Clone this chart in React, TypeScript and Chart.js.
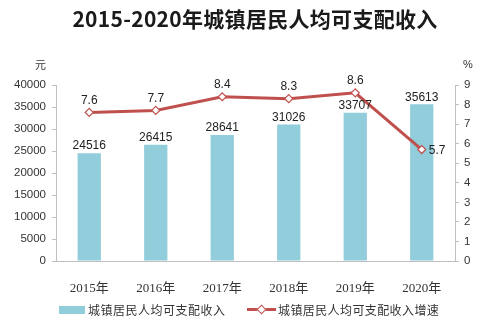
import React, { useEffect, useRef } from "react";
import { Chart, registerables } from "chart.js";

Chart.register(...registerables);

const categories = ["2015年", "2016年", "2017年", "2018年", "2019年", "2020年"];
const incomeValues = [24516, 26415, 28641, 31026, 33707, 35613];
const growthValues = [7.6, 7.7, 8.4, 8.3, 8.6, 5.7];
const titleText = "2015-2020年城镇居民人均可支配收入";
const barLegend = "城镇居民人均可支配收入";
const lineLegend = "城镇居民人均可支配收入增速";
const leftUnit = "元";
const rightUnit = "%";

const BAR_COLOR = "#92cddc";
const LINE_COLOR = "#c0504d";
const AXIS_COLOR = "#bfbfbf";
const TEXT_COLOR = "#333333";

const labelPlugin = {
  id: "valueLabels",
  afterDatasetsDraw(chart: any) {
    const ctx = chart.ctx;
    ctx.save();
    ctx.fillStyle = "#222222";
    ctx.font = "12px 'Liberation Sans', Arial, sans-serif";
    const barMeta = chart.getDatasetMeta(1);
    barMeta.data.forEach((el: any, i: number) => {
      ctx.textAlign = "center";
      ctx.textBaseline = "bottom";
      ctx.fillText(String(incomeValues[i]), el.x, el.y - 1);
    });
    const lineMeta = chart.getDatasetMeta(0);
    lineMeta.data.forEach((el: any, i: number) => {
      const txt = growthValues[i].toFixed(1);
      if (i === growthValues.length - 1) {
        ctx.textAlign = "left";
        ctx.textBaseline = "middle";
        ctx.fillText(txt, el.x + 7, el.y + 1);
      } else {
        ctx.textAlign = "center";
        ctx.textBaseline = "bottom";
        ctx.fillText(txt, el.x, el.y - 6);
      }
    });
    ctx.restore();
  },
};

export default function App() {
  const canvasRef = useRef<HTMLCanvasElement | null>(null);

  useEffect(() => {
    if (!canvasRef.current) return;
    const chart = new Chart(canvasRef.current, {
      type: "bar",
      data: {
        labels: categories,
        datasets: [
          {
            type: "line",
            label: lineLegend,
            data: growthValues,
            yAxisID: "y1",
            borderColor: LINE_COLOR,
            borderWidth: 3,
            backgroundColor: "#ffffff",
            pointStyle: "rectRot",
            pointRadius: 4,
            pointBorderWidth: 1.2,
            pointBorderColor: LINE_COLOR,
            pointBackgroundColor: "#ffffff",
            tension: 0,
            order: 0,
          } as any,
          {
            type: "bar",
            label: barLegend,
            data: incomeValues,
            yAxisID: "y",
            backgroundColor: BAR_COLOR,
            barPercentage: 0.35,
            categoryPercentage: 1,
            order: 1,
          } as any,
        ],
      },
      options: {
        responsive: false,
        animation: false,
        layout: { padding: { top: 85, left: 0, right: 0, bottom: 0 } },
        plugins: { legend: { display: false }, tooltip: { enabled: false }, title: { display: false } },
        scales: {
          x: {
            grid: { display: false },
            border: { display: true, color: AXIS_COLOR },
            ticks: {
              color: TEXT_COLOR,
              font: { family: "'Liberation Serif', 'DejaVu Serif', 'Noto Sans CJK SC', serif", size: 13 },
              padding: 12,
            },
            afterFit: (s: any) => {
              s.height = 69;
            },
          },
          y: {
            position: "left",
            min: 0,
            max: 40000,
            ticks: {
              stepSize: 5000,
              color: TEXT_COLOR,
              font: { family: "'Liberation Sans', Arial, sans-serif", size: 11.5 },
              padding: 6,
              callback: (v: any) => String(v),
            },
            grid: { drawOnChartArea: false, tickLength: 4, color: AXIS_COLOR },
            border: { display: true, color: AXIS_COLOR },
            afterFit: (s: any) => {
              s.width = 56;
            },
          },
          y1: {
            position: "right",
            min: 0,
            max: 9,
            ticks: {
              stepSize: 1,
              color: TEXT_COLOR,
              font: { family: "'Liberation Sans', Arial, sans-serif", size: 11.5 },
              padding: 5,
              callback: (v: any) => String(v),
            },
            grid: { drawOnChartArea: false, tickLength: 4, color: AXIS_COLOR },
            border: { display: true, color: AXIS_COLOR },
            afterFit: (s: any) => {
              s.width = 35;
            },
          },
        },
      } as any,
      plugins: [labelPlugin],
    });
    return () => chart.destroy();
  }, []);

  const cjk = "'Noto Sans CJK SC', 'Noto Sans', sans-serif";

  return (
    <div style={{ position: "absolute", left: 0, top: 0, width: 490, height: 330, background: "#ffffff", overflow: "hidden" }}>
      <canvas ref={canvasRef} width={490} height={330} style={{ position: "absolute", left: 0, top: 0, width: 490, height: 330 }} />
      <div
        style={{
          position: "absolute",
          left: 0,
          width: 510,
          top: 4,
          textAlign: "center",
          fontFamily: cjk,
          fontWeight: 700,
          fontSize: 21,
          letterSpacing: 0.3,
          lineHeight: "28px",
          color: "#1a1a1a",
        }}
      >
        {titleText}
      </div>
      <div style={{ position: "absolute", left: 35, top: 57, fontFamily: cjk, fontSize: 11, color: TEXT_COLOR, lineHeight: "14px" }}>
        {leftUnit}
      </div>
      <div style={{ position: "absolute", left: 463, top: 57, fontFamily: "'Liberation Sans', sans-serif", fontSize: 11, color: TEXT_COLOR, lineHeight: "14px" }}>
        {rightUnit}
      </div>
      <div style={{ position: "absolute", left: 59, top: 306, width: 26, height: 8, background: BAR_COLOR }} />
      <div style={{ position: "absolute", left: 88, top: 302, fontFamily: cjk, fontSize: 12, letterSpacing: 0.5, lineHeight: "16px", color: TEXT_COLOR }}>
        {barLegend}
      </div>
      <div style={{ position: "absolute", left: 247, top: 308, width: 29, height: 3, background: LINE_COLOR }} />
      <div
        style={{
          position: "absolute",
          left: 258,
          top: 306,
          width: 5,
          height: 5,
          background: "#ffffff",
          border: `1px solid ${LINE_COLOR}`,
          transform: "rotate(45deg)",
        }}
      />
      <div style={{ position: "absolute", left: 278, top: 302, fontFamily: cjk, fontSize: 12, letterSpacing: 0.4, lineHeight: "16px", color: TEXT_COLOR }}>
        {lineLegend}
      </div>
    </div>
  );
}
